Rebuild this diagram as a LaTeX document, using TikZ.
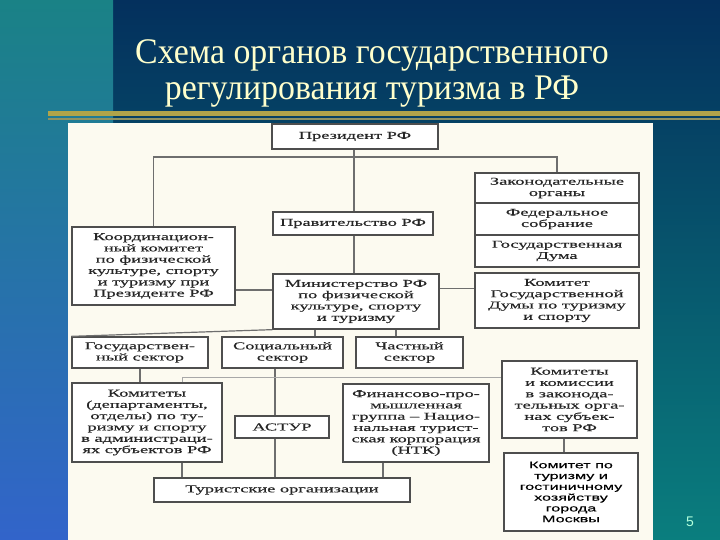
\documentclass[tikz,border=0pt]{standalone}
\usepackage{fontspec}
\setmainfont{Liberation Serif}
\newfontfamily\titlefont[FakeStretch=0.94]{Liberation Serif}
\newfontfamily\schemefont[FakeStretch=1.75,FakeBold=0.4]{Liberation Serif}
\newfontfamily\mskfont[FakeStretch=1.7,FakeBold=0.3]{Liberation Sans}
\newfontfamily\numfont{Liberation Sans}
\usetikzlibrary{positioning}

\definecolor{bandtop}{HTML}{1A8286}
\definecolor{bandbot}{HTML}{3264CA}
\definecolor{navy}{HTML}{04305D}
\definecolor{seateal}{HTML}{0A7E7E}
\definecolor{stripegold}{HTML}{B0A44A}
\definecolor{stripeolive}{HTML}{8E9362}
\definecolor{titlecream}{HTML}{FFFFCC}
\definecolor{paper}{HTML}{FCFAF0}
\definecolor{boxline}{HTML}{4E4E4E}
\definecolor{linkgray}{HTML}{6E6E6E}
\definecolor{inkgray}{HTML}{262626}

\begin{document}
\begin{tikzpicture}[x=1pt,y=-1pt,
    org box/.style={draw=boxline,line width=1.3pt,fill=white,inner sep=0pt,
      align=center,text=inkgray,font=\schemefont\fontsize{10.5}{11.3}\selectfont},
    msk box/.style={org box,text=black,font=\mskfont\fontsize{9.5}{10.8}\selectfont},
    link/.style={draw=linkgray,line width=1.2pt},
    spine/.style={draw=linkgray,line width=2.6pt},
    faint link/.style={draw=linkgray!60,line width=1pt}]

  \useasboundingbox (0,0) rectangle (720,540);

  % slide background
  \shade[top color=navy,bottom color=seateal] (113,0) rectangle (720,540);
  \shade[top color=bandtop,bottom color=bandbot] (0,0) rectangle (113,540);
  \fill[stripegold] (48,111) rectangle (720,116);
  \fill[stripeolive] (48,118) rectangle (720,120.5);
  \fill[paper] (68,123) rectangle (653,540);

  \node[text=titlecream,align=center,font=\titlefont\fontsize{36}{36}\selectfont]
    (title) at (372,73) {Схема органов государственного\\регулирования туризма в РФ};
  \node[text=titlecream!70!cyan,font=\numfont\fontsize{14}{14}\selectfont]
    (pagenum) at (690,522) {5};

  % federal level
  \node[org box,minimum width=166pt,minimum height=25pt] (pres) at (355,136.5) {Президент РФ};
  \node[org box,minimum width=160pt,minimum height=23pt] (gov) at (353,223.5) {Правительство РФ};
  \node[org box,minimum width=166pt,minimum height=55pt] (min) at (356,301.5)
    {Министерство РФ\\по физической\\культуре, спорту\\и туризму};
  \node[org box,minimum width=163pt,minimum height=78pt] (coord) at (153.5,266)
    {Координацион-\\ный комитет\\по физической\\культуре, спорту\\и туризму при\\Президенте РФ};

  \node[org box,minimum width=164pt,minimum height=30pt] (legA) at (557,188) {Законодательные\\органы};
  \node[org box,minimum width=164pt,minimum height=32pt] (legB) at (557,219) {Федеральное\\собрание};
  \node[org box,minimum width=164pt,minimum height=32pt] (legC) at (557,251) {Государственная\\Дума};
  \node[org box,minimum width=164pt,minimum height=55pt] (duma) at (557,300.5)
    {Комитет\\Государственной\\Думы по туризму\\и спорту};

  % sectors
  \node[org box,minimum width=136pt,minimum height=31pt] (gos) at (140,352.5) {Государствен-\\ный сектор};
  \node[org box,minimum width=121pt,minimum height=31pt] (soc) at (282.5,352.5) {Социальный\\сектор};
  \node[org box,minimum width=107pt,minimum height=31pt] (priv) at (409.5,352.5) {Частный\\сектор};

  \node[org box,minimum width=150pt,minimum height=79pt] (adm) at (147,422.5)
    {Комитеты\\(департаменты,\\отделы) по ту-\\ризму и спорту\\в администраци-\\ях субъектов РФ};
  \node[org box,minimum width=94pt,minimum height=22pt] (astur) at (282,427) {АСТУР};
  \node[org box,minimum width=146pt,minimum height=78pt] (fin) at (416,423)
    {Финансово-про-\\мышленная\\группа – Нацио-\\нальная турист-\\ская корпорация\\(НТК)};
  \node[org box,minimum width=256pt,minimum height=24pt] (tour) at (282,490) {Туристские организации};

  \node[org box,minimum width=135pt,minimum height=77pt] (legcomm) at (569.5,399.5)
    {Комитеты\\и комиссии\\в законода-\\тельных орга-\\нах субъек-\\тов РФ};
  \node[msk box,minimum width=134pt,minimum height=78pt] (msk) at (571,492)
    {Комитет по\\туризму и\\гостиничному\\хозяйству\\города\\Москвы};

  \coordinate (fork) at (354,157);

  % connectors
  \draw[link] (pres.south -| fork) -- (gov.north -| fork);
  \draw[link] (coord.north) |- (fork) -| (legA.north);
  \draw[link] (gov.south -| fork) -- (min.north -| fork);
  \draw[link] ([yshift=11.5pt]min.west) -- ([yshift=11.5pt]min.west -| coord.east);
  \draw[link] ([yshift=13pt]min.east) -- ([yshift=13pt]min.east -| duma.west);
  \draw[link] (gos.north west) -- (min.south west);
  \draw[link] ([xshift=32.5pt]soc.north) -- ([xshift=32.5pt]soc.north |- min.south);
  \draw[link] ([xshift=-13.5pt]priv.north) -- ([xshift=-13.5pt]priv.north |- min.south);
  \draw[link] (gos.south) -- (gos.south |- adm.north);
  \draw[spine] ([xshift=-7.5pt]soc.south) -- ([xshift=-7.5pt]soc.south |- astur.north);
  \draw[spine] ([xshift=-7pt]astur.south) -- ([xshift=-7pt]astur.south |- tour.north);
  \draw[faint link] ([xshift=35pt]adm.north) |- ([yshift=22.5pt]legcomm.west);
  \draw[link] ([xshift=35pt]adm.south) -- ([xshift=35pt]adm.south |- tour.north);
  \draw[link] ([xshift=-33pt]fin.south) -- ([xshift=-33pt]fin.south |- tour.north);
  \draw[spine] ([xshift=-5.5pt]legcomm.south) -- ([xshift=-5.5pt]legcomm.south |- msk.north);
\end{tikzpicture}
\end{document}
